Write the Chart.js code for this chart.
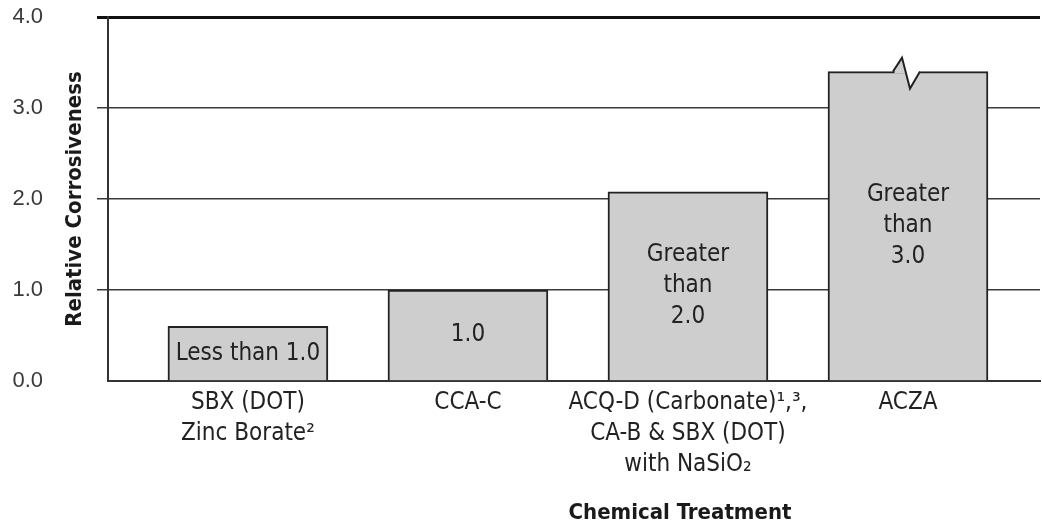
<!DOCTYPE html>
<html>
<head>
<meta charset="utf-8">
<script src="https://cdn.jsdelivr.net/npm/chart.js@4.4.1/dist/chart.umd.min.js"></script>
<style>
  body { margin: 0; background: #fff; }
  #wrap { width: 1042px; height: 527px; }
</style>
</head>
<body>
<div id="wrap"><canvas id="myChart"></canvas></div>
<script>
const treatments = [
  ['SBX (DOT)', 'Zinc Borate²'],
  ['CCA-C'],
  ['ACQ-D (Carbonate)¹,³,', 'CA-B & SBX (DOT)', 'with NaSiO₂'],
  ['ACZA']
]
const corrosiveness = [0.6, 1.0, 2.08, 3.4]
const barNotes = [['Less than 1.0'], ['1.0'], ['Greater', 'than', '2.0'], ['Greater', 'than', '3.0']]
const brokenBar = [false, false, false, true]
const yTicks = [0, 1, 2, 3, 4]

const narrow = '"Liberation Sans Narrow", "Arial Narrow", "DejaVu Sans Condensed", sans-serif'

// zigzag "break" mark on top of the ACZA bar
function drawBreak(ctx, bar) {
  const top = bar.y
  const x0 = bar.x - 14
  const cross = x0 + 11.6
  ctx.save()
  ctx.fillStyle = '#fff'
  ctx.beginPath()
  ctx.moveTo(cross - 1, top - 2)
  ctx.lineTo(x0 + 28, top - 2)
  ctx.lineTo(x0 + 26, top)
  ctx.lineTo(x0 + 16, top + 17)
  ctx.closePath()
  ctx.fill()
  ctx.fillStyle = '#cecece'
  ctx.beginPath()
  ctx.moveTo(x0, top + 2)
  ctx.lineTo(x0 + 8, top - 14)
  ctx.lineTo(cross + 1, top + 2)
  ctx.closePath()
  ctx.fill()
  ctx.strokeStyle = '#222'
  ctx.lineWidth = 2
  ctx.beginPath()
  ctx.moveTo(x0 - 1, top)
  ctx.lineTo(x0 + 8, top - 14)
  ctx.lineTo(x0 + 16, top + 17)
  ctx.lineTo(x0 + 26, top)
  ctx.stroke()
  ctx.restore()
}

const notesPlugin = {
  id: 'notes',
  afterDatasetsDraw(chart) {
    const ctx = chart.ctx
    const meta = chart.getDatasetMeta(0)
    ctx.save()
    meta.data.forEach((bar, i) => {
      if (brokenBar[i]) drawBreak(ctx, bar)
      const lines = barNotes[i]
      const mid = (bar.y + bar.base) / 2
      ctx.font = '24px ' + narrow
      ctx.fillStyle = '#222'
      ctx.textAlign = 'center'
      ctx.textBaseline = 'middle'
      lines.forEach((t, j) => {
        ctx.fillText(t, bar.x, mid + (j - (lines.length - 1) / 2) * 31)
      })
    })
    ctx.font = 'bold 22px ' + narrow
    ctx.fillStyle = '#1a1a1a'
    ctx.textAlign = 'center'
    ctx.textBaseline = 'middle'
    ctx.fillText('Chemical Treatment', 680, 513)
    ctx.restore()
  }
}

const ctx = document.getElementById('myChart')
const myChart = new Chart(ctx, {
  type: 'bar',
  data: {
    datasets: [{
      data: corrosiveness.map((v, i) => ({ x: i, y: v })),
      backgroundColor: '#cecece',
      borderColor: '#222',
      borderWidth: 2,
      borderSkipped: 'bottom',
      barThickness: 160
    }]
  },
  options: {
    responsive: true,
    maintainAspectRatio: false,
    animation: false,
    layout: { padding: { top: 17, right: 2, left: 0, bottom: 0 } },
    plugins: { legend: { display: false }, tooltip: { enabled: false } },
    scales: {
      x: {
        type: 'linear',
        offset: false,
        min: -0.636,
        max: 3.6,
        afterBuildTicks: (scale) => { scale.ticks = treatments.map((t, i) => ({ value: i })) },
        afterFit: (scale) => {
          scale.height = 146
          scale.paddingLeft = 0
          scale.paddingRight = 0
        },
        grid: { display: false, drawTicks: false },
        border: { display: true, color: '#333', width: 2 },
        ticks: {
          autoSkip: false,
          maxRotation: 0,
          padding: 6,
          color: '#222',
          font: { family: narrow, size: 24, lineHeight: 1.3 },
          callback: (v) => treatments[v]
        }
      },
      y: {
        min: 0,
        max: 4,
        afterBuildTicks: (scale) => { scale.ticks = yTicks.map(v => ({ value: v })) },
        afterFit: (scale) => {
          scale.width = 108
          scale.paddingTop = 0
          scale.paddingBottom = 0
        },
        grid: {
          color: (c) => c.tick.value === 0 ? 'rgba(0,0,0,0)' : (c.tick.value === 4 ? '#111' : '#3a3a3a'),
          lineWidth: (c) => c.tick.value === 4 ? 3 : 1.5,
          tickColor: (c) => c.tick.value === 0 ? 'rgba(0,0,0,0)' : (c.tick.value === 4 ? '#111' : '#3a3a3a'),
          tickLength: 11
        },
        border: { display: true, color: '#333', width: 2 },
        ticks: {
          padding: 54,
          color: '#3a3a3a',
          font: { family: '"Liberation Sans", Arial, sans-serif', size: 22 },
          callback: (v) => v.toFixed(1)
        },
        title: {
          display: true,
          text: 'Relative Corrosiveness',
          color: '#1a1a1a',
          padding: { top: 62, bottom: 0 },
          font: { family: narrow, size: 22, weight: 'bold' }
        }
      }
    }
  },
  plugins: [notesPlugin]
})
</script>
</body>
</html>
